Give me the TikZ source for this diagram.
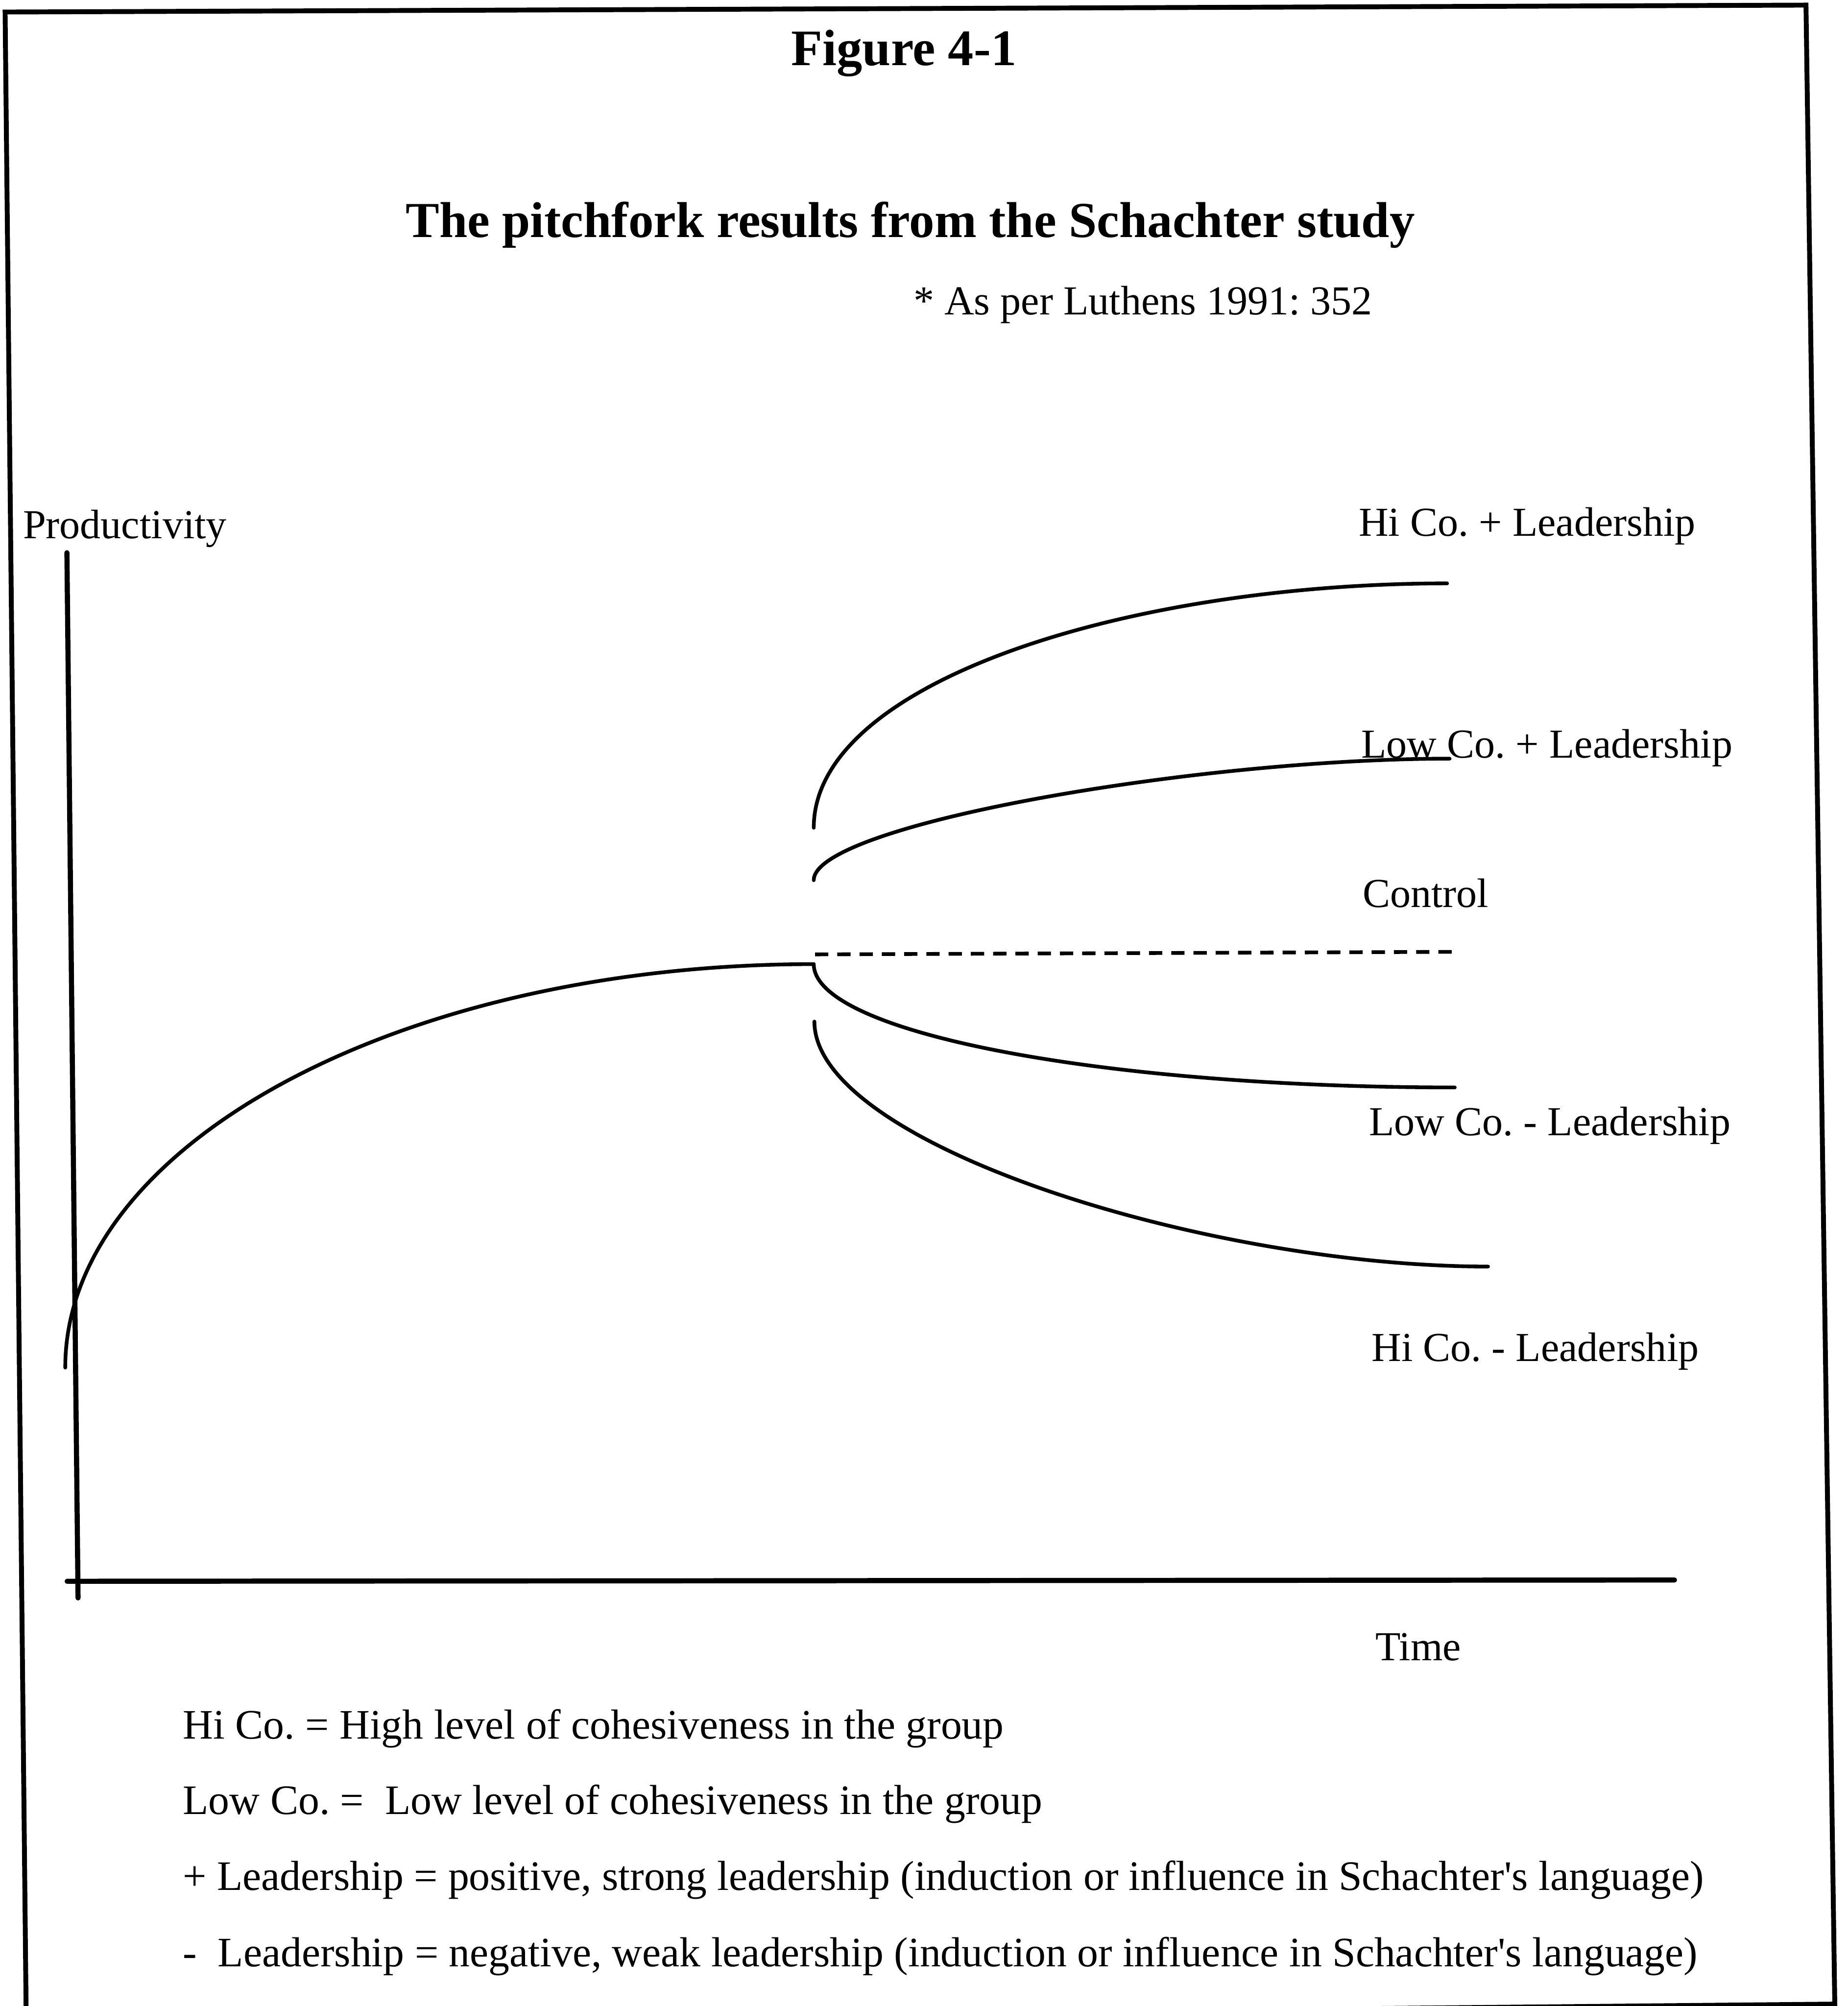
\documentclass[tikz,border=0pt]{standalone}
\usepackage{fontspec}
\setmainfont{Liberation Serif}
\frenchspacing
\begin{document}
\begin{tikzpicture}[x=0.5pt,y=-0.5pt,
  txt/.style={inner sep=0pt, outer sep=0pt, anchor=base west,
              font=\fontsize{16.1}{19}\selectfont},
  keytxt/.style={txt, font=\fontsize{16.4}{19}\selectfont},
  curve/.style={line width=1.45pt, line cap=round},
  axisline/.style={line width=2pt, line cap=round},
  frameline/.style={line width=1.9pt, line join=miter}]
\useasboundingbox (0,0) rectangle (1444,1568);
\clip (0,0) rectangle (1444,1568);

% outer frame (bottom edge runs off the lower left)
\draw[frameline] (4,9.4) -- (1411.5,4) -- (1434,1566.5) -- (20.5,1580) -- cycle;

% headings
\node[txt, anchor=base, font=\fontsize{20}{24}\selectfont\bfseries] (fig) at (706.5,51) {Figure 4-1};
\node[txt, anchor=base, font=\fontsize{19.7}{23}\selectfont\bfseries] (title) at (711.5,185.5) {The pitchfork results from the Schachter study};
\node[txt] (source) at (714,246) {* As per Luthens 1991: 352};

% axes
\coordinate (ytop) at (52.3,432);
\coordinate (ybot) at (61,1249);
\coordinate (xleft) at (52.5,1236);
\coordinate (xright) at (1308.7,1235);
\draw[axisline] (ytop) -- (ybot);
\draw[axisline] (xleft) -- (xright);
\node[txt] (prod) at (18,421) {Productivity};
\node[txt] (time) at (1075,1298) {Time};

% common rise up to the fork
\coordinate (start) at (51,1069);
\coordinate (fork) at (636,753.6);
\draw[curve] (start) .. controls (51,894.8) and (312.9,753.6) .. (fork);

% branches after the fork
\coordinate (hpS) at (636,647);   \coordinate (hpE) at (1131,456);
\coordinate (lpS) at (636,688);   \coordinate (lpE) at (1133,593);
\coordinate (ctS) at (637,746);   \coordinate (ctE) at (1135,744);
\coordinate (lmE) at (1137,850);
\coordinate (hmS) at (636.5,798.5); \coordinate (hmE) at (1163,990);

\draw[curve] (hpS) .. controls (636,532.4) and (883.5,456) .. (hpE);
\draw[curve] (lpS) .. controls (636,645) and (934,593) .. (lpE);
\draw[curve, line cap=butt, dash pattern=on 5.2pt off 3.5pt] (ctS) -- (ctE);
\draw[curve] (fork) .. controls (636,807) and (860.3,850) .. (lmE);
\draw[curve] (hmS) .. controls (636.5,894) and (942,990) .. (hmE);

% branch labels
\node[txt] (hp) at (1062,419) {Hi Co. + Leadership};
\node[txt] (lp) at (1064,592.5) {Low Co. + Leadership};
\node[txt] (ct) at (1065,709) {Control};
\node[txt] (lm) at (1070,887.5) {Low Co. - Leadership};
\node[txt] (hm) at (1072,1064) {Hi Co. - Leadership};

% key
\node[keytxt] (k1) at (143,1359) {Hi Co. = High level of cohesiveness in the group};
\node[keytxt] (k2) at (143,1418) {Low Co. =\ \ Low level of cohesiveness in the group};
\node[keytxt] (k3) at (143,1477.5) {+ Leadership = positive, strong leadership (induction or influence in Schachter\textquotesingle s language)};
\node[keytxt] (k4) at (143,1537) {-\ \ Leadership = negative, weak leadership (induction or influence in Schachter\textquotesingle s language)};
\end{tikzpicture}
\end{document}
